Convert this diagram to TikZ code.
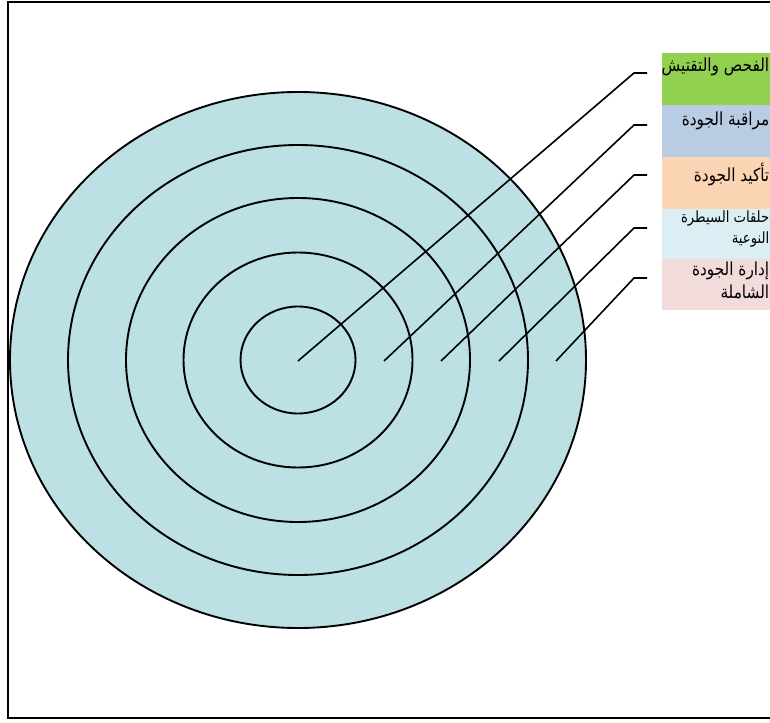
\documentclass[tikz,border=0pt]{standalone}
\usepackage{fontspec}
\newfontfamily\arabicfont[Script=Arabic,FakeStretch=0.85]{DejaVu Sans}
\TeXXeTstate=1
\usepackage{xcolor}
\usepackage{tikz}
\usetikzlibrary{positioning}

\definecolor{ringfill}{RGB}{188,224,227}
\definecolor{boxgreen}{RGB}{146,208,80}
\definecolor{boxblue}{RGB}{184,204,228}
\definecolor{boxorange}{RGB}{251,212,180}
\definecolor{boxcyan}{RGB}{218,238,243}
\definecolor{boxpink}{RGB}{242,220,219}

\begin{document}
\begin{tikzpicture}[
  x=1pt,y=-1pt,
  ring/.style={draw,line width=1.9pt,fill=ringfill},
  frame/.style={line width=2.2pt},
  box/.style={rectangle,inner sep=0pt,anchor=north west,minimum width=120pt,minimum height=52pt},
  boxtext/.style={anchor=north east,inner sep=0pt,align=right,font=\arabicfont\fontsize{18}{20}\selectfont},
  lead/.style={line width=1.6pt}
]
  \useasboundingbox (0,0) rectangle (770,722);
  % frame
  \draw[frame] (770,2) -- (8,2) -- (8,718) -- (770,718);
  % rings
  \draw[ring] (298,360) ellipse [x radius=288,y radius=268];
  \draw[ring] (298,360) ellipse [x radius=230,y radius=215];
  \draw[ring] (298,360) ellipse [x radius=172,y radius=162];
  \draw[ring] (298,360) ellipse [x radius=114.5,y radius=107.5];
  \draw[ring] (298,360) ellipse [x radius=57.5,y radius=53.5];
  % boxes
  \node[box,fill=boxgreen] (b1) at (662,53) {};
  \node[box,fill=boxblue] (b2) at (662,105) {};
  \node[box,fill=boxorange] (b3) at (662,157) {};
  \node[box,fill=boxcyan,minimum height=50pt] (b4) at (662,209) {};
  \node[box,fill=boxpink,minimum height=51pt] (b5) at (662,259) {};
  \node[boxtext] (t1) at ([xshift=-13pt,yshift=-5pt]b1.north east) {\beginR الفحص والتقتيش\endR};
  \node[boxtext] (t2) at ([xshift=-13pt,yshift=-7pt]b2.north east) {\beginR مراقبة الجودة\endR};
  \node[boxtext] (t3) at ([xshift=-13pt,yshift=-6pt]b3.north east) {\beginR تأكيد الجودة\endR};
  \node[boxtext,font=\arabicfont\fontsize{15.5}{21}\selectfont] (t4) at ([xshift=-13pt,yshift=-2pt]b4.north east) {\beginR حلقات السيطرة\endR\\\beginR النوعية\endR};
  \node[boxtext,font=\arabicfont\fontsize{18}{23}\selectfont] (t5) at ([xshift=-13pt,yshift=-3pt]b5.north east) {\beginR إدارة الجودة\endR\\\beginR الشاملة\endR};
  % leader lines
  \coordinate (p1) at (298,361);
  \coordinate (p2) at (384,361);
  \coordinate (p3) at (441,361);
  \coordinate (p4) at (499,361);
  \coordinate (p5) at (556,361);
  \coordinate (k1) at (634,73);
  \coordinate (k2) at (634,125);
  \coordinate (k3) at (634,175);
  \coordinate (k4) at (634,228);
  \coordinate (k5) at (634,278);
  \draw[lead] (p1) -- (k1) -- ++(13,0);
  \draw[lead] (p2) -- (k2) -- ++(13,0);
  \draw[lead] (p3) -- (k3) -- ++(13,0);
  \draw[lead] (p4) -- (k4) -- ++(13,0);
  \draw[lead] (p5) -- (k5) -- ++(13,0);
\end{tikzpicture}
\end{document}
